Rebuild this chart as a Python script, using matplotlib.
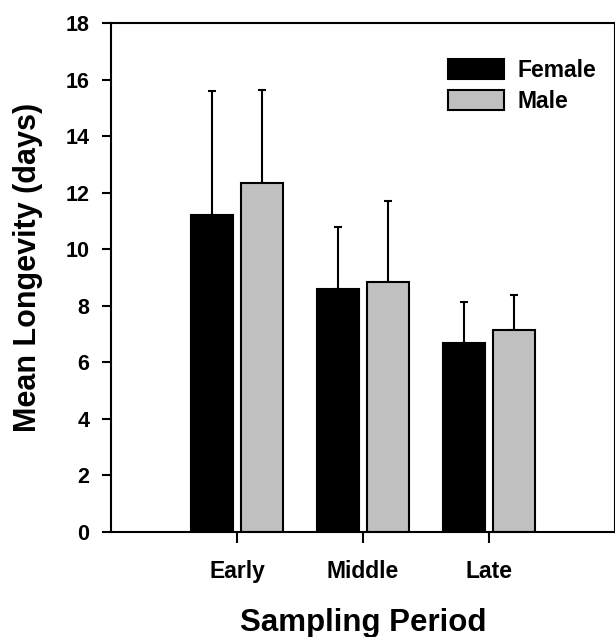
import numpy as np
import matplotlib.pyplot as plt
from matplotlib.patches import Patch

# Dados
periodos = ['Early', 'Middle', 'Late']
femea_media = [11.2, 8.6, 6.67]
femea_erro = [4.4, 2.2, 1.47]
macho_media = [12.35, 8.85, 7.13]
macho_erro = [3.27, 2.85, 1.25]

plt.rcParams['font.family'] = ['Liberation Sans', 'DejaVu Sans']
plt.rcParams['font.weight'] = 'bold'

fig = plt.figure(figsize=(6.15, 6.37), dpi=100)
ax = fig.add_axes([0.1805, 0.1648, 0.8195, 0.7991])

x = np.arange(1, len(periodos) + 1)
largura = 0.33
desloc = 0.2

ax.bar(x - desloc, femea_media, largura, color='black', edgecolor='black', linewidth=1.5, zorder=2)
ax.bar(x + desloc, macho_media, largura, color='#c0c0c0', edgecolor='black', linewidth=1.5, zorder=2)

# Barras de erro apenas para cima
ax.errorbar(x - desloc, femea_media, yerr=[np.zeros(3), femea_erro], fmt='none',
            ecolor='black', elinewidth=1.5, capsize=3, capthick=1.5, zorder=1)
ax.errorbar(x + desloc, macho_media, yerr=[np.zeros(3), macho_erro], fmt='none',
            ecolor='black', elinewidth=1.5, capsize=3, capthick=1.5, zorder=1)

ax.set_xlim(0, 4)
ax.set_ylim(0, 18)
ax.set_yticks(np.arange(0, 19, 2))
ax.set_xticks(x)
ax.set_xticklabels(periodos, fontsize=16.5, fontweight='bold')
ax.tick_params(axis='y', labelsize=15.5, length=6.5, width=1.5, direction='out', pad=9)
ax.tick_params(axis='x', length=8, width=1.5, direction='out', pad=12)
for lab in ax.get_yticklabels():
    lab.set_fontweight('bold')

for s in ['left', 'bottom', 'top', 'right']:
    ax.spines[s].set_linewidth(1.5)

ax.set_xlabel('Sampling Period', fontsize=22.5, fontweight='bold', labelpad=18)
ax.set_ylabel('Mean Longevity (days)', fontsize=22, fontweight='bold')
ax.yaxis.set_label_coords(-0.135, 0.519)

handles = [Patch(facecolor='black', edgecolor='black', linewidth=1.5, label='Female'),
           Patch(facecolor='#c0c0c0', edgecolor='black', linewidth=1.5, label='Male')]
leg = ax.legend(handles=handles, loc='upper left', bbox_to_anchor=(0.668, 0.93), frameon=False,
                prop={'size': 16.5, 'weight': 'bold'}, handlelength=2.45, handleheight=1.0,
                labelspacing=0.35, handletextpad=0.6, borderpad=0, borderaxespad=0)
for t in leg.get_texts():
    t.set_fontweight('bold')

fig.savefig('out.png', dpi=100)
